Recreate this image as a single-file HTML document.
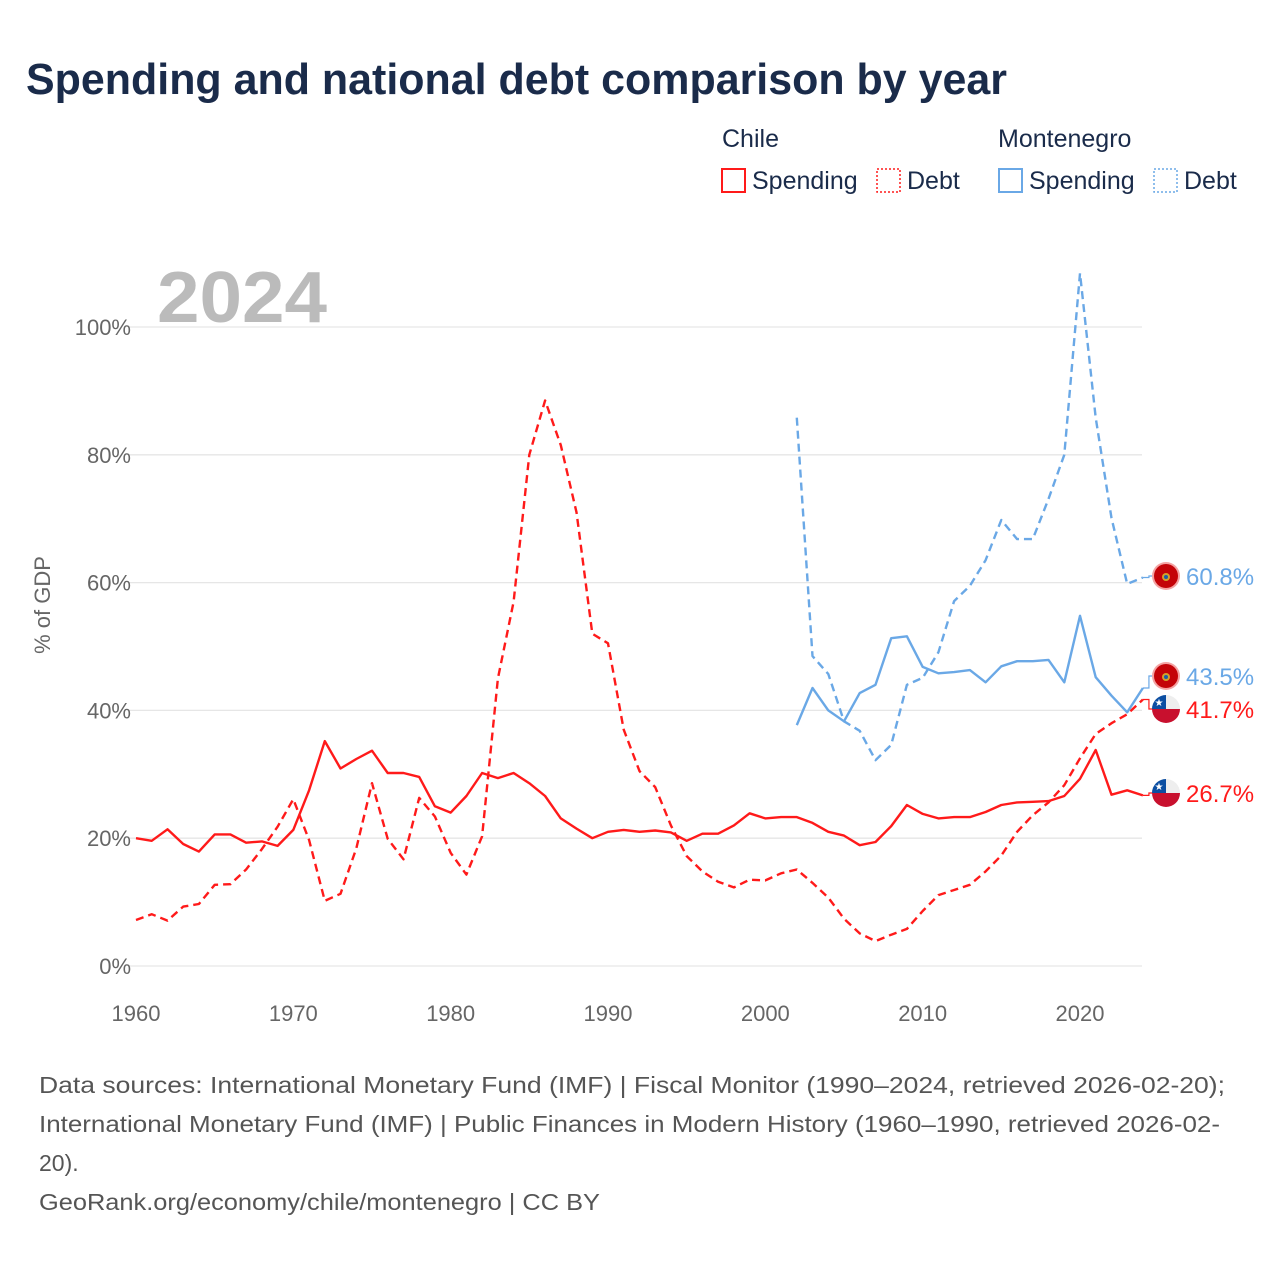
<!DOCTYPE html>
<html><head><meta charset="utf-8">
<style>
body{margin:0;background:#fff;font-family:"Liberation Sans",sans-serif;}
#wrap{position:relative;width:1280px;height:1280px;overflow:hidden;}
</style></head>
<body>
<div id="wrap">
<svg id="chart" width="1280" height="1280" xmlns="http://www.w3.org/2000/svg">
  <text x="26" y="94" font-size="44" font-weight="bold" fill="#1a2b4a" textLength="981" lengthAdjust="spacingAndGlyphs">Spending and national debt comparison by year</text>
  <g font-size="25" fill="#1a2b4a">
    <text x="722" y="147">Chile</text>
    <text x="998" y="147">Montenegro</text>
    <g><rect x="722" y="169" width="23" height="23" fill="none" stroke="#ff1a1a" stroke-width="2"/><text x="752" y="189">Spending</text></g>
    <g><rect x="877" y="169" width="23" height="23" fill="none" stroke="#ff1a1a" stroke-width="1.5" stroke-dasharray="2,2"/><text x="907" y="189">Debt</text></g>
    <g><rect x="999" y="169" width="23" height="23" fill="none" stroke="#6aa8e6" stroke-width="2"/><text x="1029" y="189">Spending</text></g>
    <g><rect x="1154" y="169" width="23" height="23" fill="none" stroke="#6aa8e6" stroke-width="1.5" stroke-dasharray="2,2"/><text x="1184" y="189">Debt</text></g>
  </g>
  <text x="157" y="322" font-size="72" font-weight="bold" fill="#bbbbbb" textLength="170" lengthAdjust="spacingAndGlyphs">2024</text>
  <text transform="translate(50,605) rotate(-90)" text-anchor="middle" font-size="22" fill="#666">% of GDP</text>
  <g id="grid"></g>
  <g id="series"></g>
  <g id="ends"></g>
  <g font-size="23" fill="#555">
    <text x="39" y="1093" textLength="1186" lengthAdjust="spacingAndGlyphs">Data sources: International Monetary Fund (IMF) | Fiscal Monitor (1990–2024, retrieved 2026-02-20);</text>
    <text x="39" y="1132" textLength="1181" lengthAdjust="spacingAndGlyphs">International Monetary Fund (IMF) | Public Finances in Modern History (1960–1990, retrieved 2026-02-</text>
    <text x="39" y="1171">20).</text>
    <text x="39" y="1210" textLength="561" lengthAdjust="spacingAndGlyphs">GeoRank.org/economy/chile/montenegro | CC BY</text>
  </g>
</svg>
</div>
<script>
const chileYears = [1960,1961,1962,1963,1964,1965,1966,1967,1968,1969,1970,1971,1972,1973,1974,1975,1976,1977,1978,1979,1980,1981,1982,1983,1984,1985,1986,1987,1988,1989,1990,1991,1992,1993,1994,1995,1996,1997,1998,1999,2000,2001,2002,2003,2004,2005,2006,2007,2008,2009,2010,2011,2012,2013,2014,2015,2016,2017,2018,2019,2020,2021,2022,2023,2024];
const chileSpending = [20,19.6,21.4,19.1,17.9,20.6,20.6,19.3,19.5,18.8,21.3,27.5,35.2,30.9,32.4,33.7,30.2,30.2,29.6,25,24,26.6,30.2,29.4,30.2,28.6,26.6,23.1,21.5,20,21,21.3,21,21.2,20.9,19.6,20.7,20.7,22,23.9,23.1,23.3,23.3,22.4,21,20.4,18.9,19.4,21.9,25.2,23.8,23.1,23.3,23.3,24.1,25.2,25.6,25.7,25.8,26.6,29.3,33.8,26.8,27.5,26.7];
const chileDebt = [7.2,8.1,7.1,9.3,9.7,12.7,12.8,15.1,18.3,21.8,26.1,19.7,10.2,11.3,18.4,28.6,19.9,16.7,26.3,23.4,17.7,14.3,20.3,45,57,80,88.5,81.5,71,52,50.5,37,30.5,28,22,17.2,14.8,13.2,12.3,13.5,13.4,14.5,15.1,13,10.7,7.4,5.1,3.9,4.9,5.8,8.6,11.1,11.9,12.7,14.8,17.3,21,23.6,25.6,28.3,32.5,36.3,38,39.4,41.7];
const mneYears = [2002,2003,2004,2005,2006,2007,2008,2009,2010,2011,2012,2013,2014,2015,2016,2017,2018,2019,2020,2021,2022,2023,2024];
const mneSpending = [37.7,43.5,40,38.3,42.7,44,51.3,51.6,46.8,45.8,46,46.3,44.4,46.9,47.7,47.7,47.9,44.4,54.8,45.2,42.3,39.7,43.5];
const mneDebt = [85.8,48.5,45.7,38.3,36.8,32.2,34.6,44,45.1,49.1,57.1,59.5,63.5,69.8,66.8,66.8,73.1,80,108.4,85.8,70.1,59.8,60.8];
const yTicks = [0,20,40,60,80,100];
const xTicks = [1960,1970,1980,1990,2000,2010,2020];

const NS="http://www.w3.org/2000/svg";
const x = yr => 136 + (yr-1960)*(944/60);
const y = v => 966 - v*6.39;
function mk(tag, attrs, parent){const e=document.createElementNS(NS,tag);for(const k in attrs)e.setAttribute(k,attrs[k]);parent.appendChild(e);return e;}
const grid=document.getElementById('grid'), series=document.getElementById('series'), ends=document.getElementById('ends');
yTicks.forEach(t=>{
  const l=mk('line',{x1:128,x2:1142,y1:y(t),y2:y(t),stroke:'#e6e6e6','stroke-width':1.3},grid);
  
  
  const tx=mk('text',{x:131,y:y(t)+8,'text-anchor':'end','font-size':22,fill:'#666'},grid);
  tx.textContent=t+'%';
  
  
});
xTicks.forEach(t=>{
  const tx=mk('text',{x:x(t),y:1021,'text-anchor':'middle','font-size':22,fill:'#666'},grid);
  tx.textContent=t;
  
  
});
function line(years, vals, color, dash, name){
  const d=vals.map((v,i)=>(i?'L':'M')+x(years[i]).toFixed(1)+','+y(v).toFixed(1)).join(' ');
  const p=mk('path',{d:d,fill:'none',stroke:color,'stroke-width':2.4,'stroke-linejoin':'round'},series);
  if(dash)p.setAttribute('stroke-dasharray','8,5');
  
  
}
const RED='#ff1a1a', BLUE='#6aa8e6';
line(chileYears,chileSpending,RED,false,'chile-spending-line');
line(chileYears,chileDebt,RED,true,'chile-debt-line');
line(mneYears,mneSpending,BLUE,false,'montenegro-spending-line');
line(mneYears,mneDebt,BLUE,true,'montenegro-debt-line');

function endLabel(val, ly, color, chile, name){
  const x0=x(2024), y0=y(val);
  const c=mk('path',{d:`M${x0},${y0} L${x0+6},${y0} L${x0+6},${ly} L1152,${ly}`,fill:'none',stroke:color,'stroke-width':1.2},ends);
  
  
  const g=mk('g',{},ends);
  
  
  const cx=1166, r=14;
  if(chile){
    mk('path',{d:`M${cx-r},${ly} A${r},${r} 0 0 1 ${cx+r},${ly} Z`,fill:'#eeeeee'},g);
    mk('path',{d:`M${cx-r},${ly} A${r},${r} 0 0 1 ${cx},${ly-r} L${cx},${ly} Z`,fill:'#0b4ea2'},g);
    mk('path',{d:`M${cx-r},${ly} A${r},${r} 0 0 0 ${cx+r},${ly} Z`,fill:'#c8102e'},g);
    mk('text',{x:cx-7,y:ly-3,'font-size':10,fill:'#fff','text-anchor':'middle'},g).textContent='★';
  } else {
    mk('circle',{cx:cx,cy:ly,r:r,fill:'#f4a3a3'},g);
    mk('circle',{cx:cx,cy:ly,r:r-2,fill:'#c40308'},g);
    mk('circle',{cx:cx,cy:ly+1,r:4,fill:'#d4a02a'},g);
    mk('circle',{cx:cx,cy:ly+1,r:2,fill:'#1d5fa8'},g);
  }
  const t=mk('text',{x:1186,y:ly+9,'font-size':24,fill:color},ends);
  t.textContent=val.toFixed(1)+'%';
  
  
}
endLabel(mneDebt[mneDebt.length-1],576,BLUE,false,'montenegro-debt-end');
endLabel(mneSpending[mneSpending.length-1],676,BLUE,false,'montenegro-spending-end');
endLabel(chileDebt[chileDebt.length-1],709,RED,true,'chile-debt-end');
endLabel(chileSpending[chileSpending.length-1],793,RED,true,'chile-spending-end');
</script>
</body></html>
